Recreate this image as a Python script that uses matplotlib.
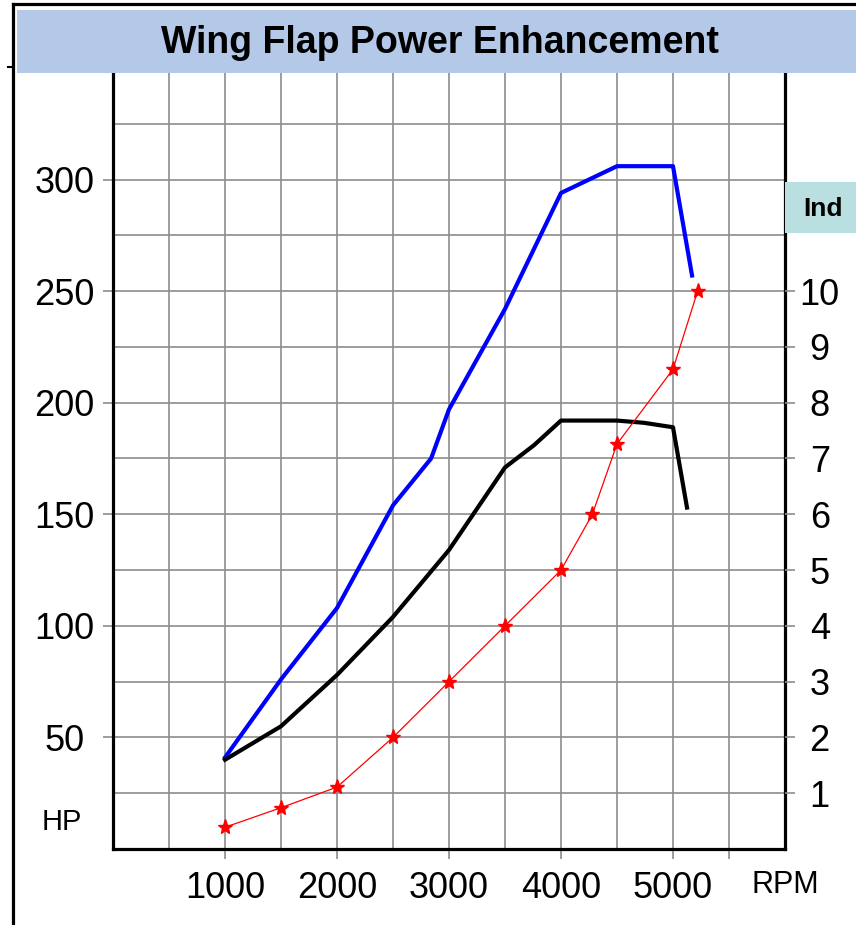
import matplotlib
matplotlib.use('Agg')
import matplotlib.pyplot as plt
from matplotlib.patches import Rectangle
from matplotlib.lines import Line2D

plt.rcParams['font.family'] = ['Liberation Sans', 'DejaVu Sans']

# blue curve (HP, left axis)
rpm_blue = [1000, 1500, 2000, 2500, 2840, 3000, 3500, 4000, 4500, 5000, 5170]
hp_blue = [41, 76, 108, 154, 175, 197, 242, 294, 306, 306, 257]

# black curve (HP, left axis)
rpm_black = [1000, 1500, 2000, 2500, 3000, 3500, 3760, 4000, 4500, 4740, 5000, 5125]
hp_black = [40, 55, 78, 104, 134, 171, 181, 192, 192, 191, 189, 153]

# red starred curve (Ind, right axis)
rpm_red = [1000, 1500, 2000, 2500, 3000, 3500, 4000, 4280, 4500, 5000, 5220]
ind_red = [0.39, 0.74, 1.11, 2, 3, 4, 5, 6, 7.26, 8.6, 10]

x_ticks = [1000, 2000, 3000, 4000, 5000, 5500]
x_labels = ['1000', '2000', '3000', '4000', '5000', '']
x_minor = [500, 1500, 2500, 3500, 4500]
hp_ticks = [50, 100, 150, 200, 250, 300]
hp_minor = [25, 75, 125, 175, 225, 275, 325]
ind_ticks = [1, 2, 3, 4, 5, 6, 7, 8, 9, 10]

W, H = 856, 925
grid_c = '#8c8c8c'

fig = plt.figure(figsize=(W / 100, H / 100), dpi=100)
ax = fig.add_axes([113 / W, 1 - 849 / H, 672 / W, 781 / H])
ax.set_xlim(0, 6000)
ax.set_ylim(0, 350)

ax.set_xticks(x_ticks)
ax.set_xticklabels(x_labels)
ax.set_xticks(x_minor, minor=True)
ax.set_yticks(hp_ticks)
ax.set_yticks(hp_minor, minor=True)
ax.grid(which='both', color=grid_c, lw=1.2)
ax.tick_params(which='minor', length=0)
ax.tick_params(which='major', length=7, width=1.2, color=grid_c, labelsize=26)
ax.tick_params(axis='x', pad=9)
ax.tick_params(axis='y', pad=28)
for lbl in ax.get_yticklabels():
    lbl.set_horizontalalignment('center')

for side in ['left', 'bottom', 'right']:
    ax.spines[side].set_linewidth(2.3)
    ax.spines[side].set_color('black')
ax.spines['top'].set_visible(False)

ax.plot(rpm_blue, hp_blue, color='#0000ff', lw=3, solid_joinstyle='round')
ax.plot(rpm_black, hp_black, color='black', lw=3, solid_joinstyle='round')

ax2 = ax.twinx()
ax2.set_ylim(0, 14)
ax2.set_yticks(ind_ticks)
ax2.tick_params(axis='y', length=7, width=1.2, color=grid_c, labelsize=26, pad=18)
for lbl in ax2.get_yticklabels():
    lbl.set_horizontalalignment('center')
for s in ax2.spines.values():
    s.set_visible(False)
ax2.plot(rpm_red, ind_red, color='red', lw=0.9, marker='*', ms=11)

# axis captions
fig.text(62 / W, 1 - 822 / H, 'HP', fontsize=21, ha='center', va='center')
fig.text(785 / W, 1 - 885 / H, 'RPM', fontsize=22, ha='center', va='center')

# outer frame
fig.add_artist(Line2D([13 / W, 13 / W], [0, 1 - 4 / H], color='black', lw=2.3))
fig.add_artist(Line2D([13 / W, 1], [1 - 4 / H, 1 - 4 / H], color='black', lw=2.3))
fig.add_artist(Line2D([8 / W, 13 / W], [1 - 67 / H, 1 - 67 / H], color='black', lw=1.5))

# title band
fig.add_artist(Rectangle((17 / W, 1 - 73 / H), (W - 17) / W, 63 / H,
                         transform=fig.transFigure, facecolor='#b4c8e8',
                         edgecolor='none', zorder=5))
fig.text(440 / W, 1 - 43 / H, 'Wing Flap Power Enhancement', fontsize=27,
         fontweight='bold', ha='center', va='center', zorder=6)

# Ind label box
fig.add_artist(Rectangle((785 / W, 1 - 233 / H), 71 / W, 51 / H,
                         transform=fig.transFigure, facecolor='#b9dfe1',
                         edgecolor='none', zorder=5))
fig.text(823 / W, 1 - 209 / H, 'Ind', fontsize=19, fontweight='bold',
         ha='center', va='center', zorder=6)

fig.savefig('out.png', dpi=100)
